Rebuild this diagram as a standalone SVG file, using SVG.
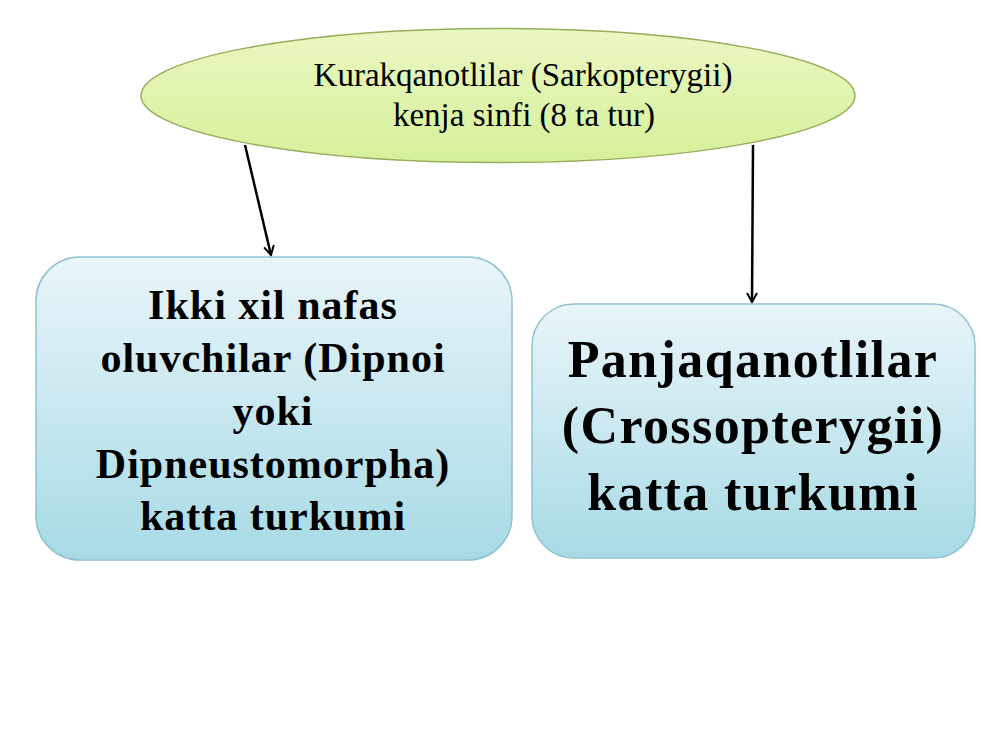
<svg xmlns="http://www.w3.org/2000/svg" width="1000" height="750" viewBox="0 0 1000 750">
  <defs>
    <linearGradient id="gGreen" x1="0" y1="0" x2="0" y2="1">
      <stop offset="0" stop-color="#eaf8c2"/>
      <stop offset="1" stop-color="#d6f09a"/>
    </linearGradient>
    <linearGradient id="gBlue" x1="0" y1="0" x2="0" y2="1">
      <stop offset="0" stop-color="#e9f5f9"/>
      <stop offset="1" stop-color="#a7dae5"/>
    </linearGradient>
    <marker id="arrow" viewBox="0 0 12 12" refX="10" refY="6" markerWidth="12" markerHeight="12" markerUnits="userSpaceOnUse" orient="auto">
      <path d="M1,1 L10,6 L1,11" fill="none" stroke="#000" stroke-width="2"/>
    </marker>
  </defs>
  <style>
    .box { fill: url(#gBlue); stroke: #8fc3cf; stroke-width: 1.5; }
    .ell { fill: url(#gGreen); stroke: #98ad5c; stroke-width: 1.5; }
    .conn { stroke: #000; stroke-width: 2.5; fill: none; marker-end: url(#arrow); }
    .t-top { font-family: "Liberation Serif", "Times New Roman", serif; font-size: 33px; fill: #000; text-anchor: middle; }
    .t-left { font-family: "Liberation Serif", "Times New Roman", serif; font-size: 42px; font-weight: bold; letter-spacing: 1px; fill: #000; text-anchor: middle; }
    .t-right { font-family: "Liberation Serif", "Times New Roman", serif; font-size: 52px; font-weight: bold; letter-spacing: 1.4px; fill: #000; text-anchor: middle; }
  </style>
  <rect width="1000" height="750" fill="#ffffff"/>

  <g id="connectors">
    <line class="conn" x1="245" y1="145" x2="271" y2="255"/>
    <line class="conn" x1="753" y1="145" x2="752" y2="302"/>
  </g>

  <g id="node-root">
    <ellipse class="ell" cx="498" cy="95.5" rx="357" ry="67"/>
    <text class="t-top" x="523" y="86">Kurakqanotlilar (Sarkopterygii)</text>
    <text class="t-top" x="524" y="126">kenja sinfi (8 ta tur)</text>
  </g>

  <g id="node-left">
    <rect class="box" x="36" y="257" width="476" height="303" rx="44" ry="44"/>
    <text class="t-left" x="273" y="319">Ikki xil nafas</text>
    <text class="t-left" x="273" y="372">oluvchilar (Dipnoi</text>
    <text class="t-left" x="273" y="425">yoki</text>
    <text class="t-left" x="273" y="478">Dipneustomorpha)</text>
    <text class="t-left" x="273" y="530">katta turkumi</text>
  </g>

  <g id="node-right">
    <rect class="box" x="532" y="304" width="443" height="254" rx="42" ry="42"/>
    <text class="t-right" x="753" y="377">Panjaqanotlilar</text>
    <text class="t-right" x="753" y="443">(Crossopterygii)</text>
    <text class="t-right" x="753" y="510">katta turkumi</text>
  </g>
</svg>
